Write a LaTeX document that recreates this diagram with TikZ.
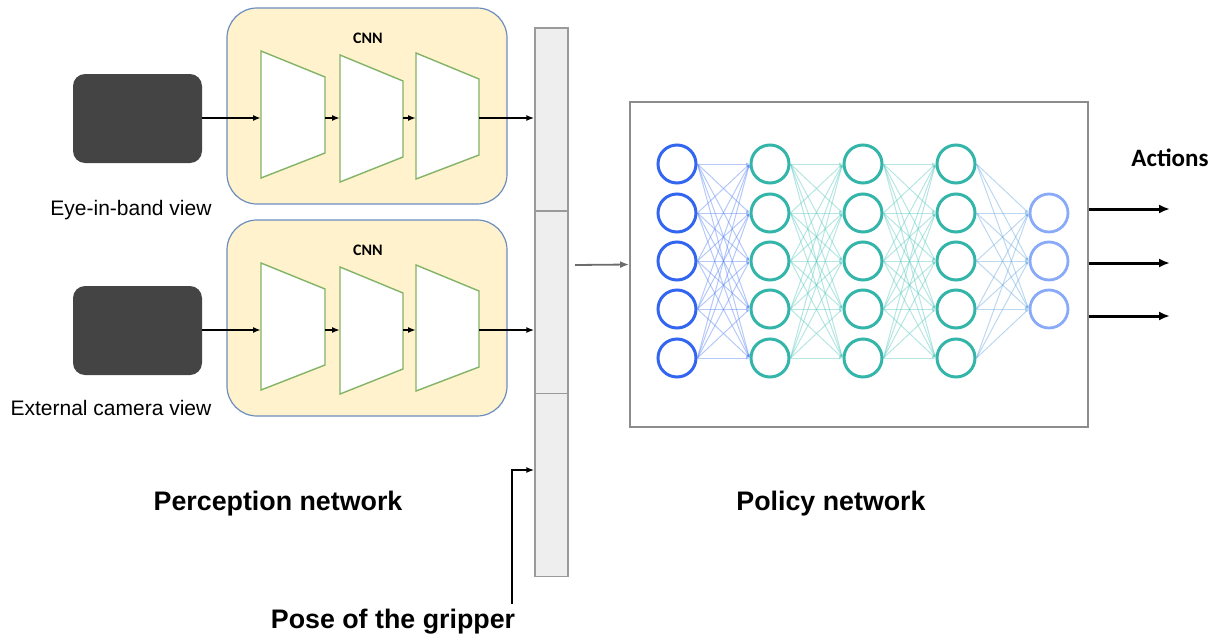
\documentclass[tikz,border=0pt]{standalone}
\usepackage{fontspec}
\setmainfont{Liberation Sans}
\newfontfamily\calib{Carlito}
\usetikzlibrary{arrows.meta}
\definecolor{camc}{HTML}{444444}
\definecolor{cnnfill}{HTML}{FFF2CC}
\definecolor{cnnline}{HTML}{6C8EBF}
\definecolor{trapline}{HTML}{82B366}
\definecolor{barfill}{HTML}{EEEEEE}
\definecolor{barline}{HTML}{9A9A9A}
\definecolor{inblue}{HTML}{3366F0}
\definecolor{nnteal}{HTML}{33B5AA}
\definecolor{outblue}{HTML}{88AAF8}
\definecolor{eblue}{HTML}{5B86F2}
\definecolor{eteal}{HTML}{5CC8C0}
\definecolor{emix}{HTML}{6AA8E0}
\begin{document}
\begin{tikzpicture}[x=1pt,y=-1pt,
  camera/.style={draw=none, fill=camc, rounded corners=12pt, minimum width=129pt, minimum height=89pt, inner sep=0pt},
  cnnbox/.style={draw=cnnline, fill=cnnfill, rounded corners=30pt, line width=1.2pt, minimum width=280pt, minimum height=196pt, inner sep=0pt},
  barseg/.style={draw=barline, fill=barfill, line width=1.4pt, minimum width=33pt, minimum height=183pt, inner sep=0pt},
  trap/.style={draw=trapline, fill=white, line width=1.4pt},
  arr/.style={-{Latex[length=8pt,width=6pt]}, line width=1.8pt, black},
  arrb/.style={-{Latex[length=11pt,width=9pt]}, line width=3pt, black},
  neuron/.style={circle, minimum size=38pt, inner sep=0pt, line width=3pt, fill=white},
  edge/.style={-{Latex[length=3.5pt,width=3pt]}, line width=1pt, opacity=0.45},
  lbl/.style={font=\fontsize{21}{24}\selectfont, inner sep=0pt},
  big/.style={font=\fontsize{26.8}{30}\selectfont\bfseries, inner sep=0pt},
  cnnlbl/.style={font=\calib\bfseries\fontsize{16}{18}\selectfont, inner sep=0pt}
]
\useasboundingbox (0,0) rectangle (1216,635);

% cameras and CNN boxes
\foreach \o/\k in {0/a,212/b}{
  \node[cnnbox] (cnn\k) at (367,106+\o) {};
  \node[cnnlbl] (cnnl\k) at (368,38+\o) {CNN};
  \node[camera] (cam\k) at (137.5,118.5+\o) {};
  \draw[trap] (261,51+\o) -- (325,77+\o) -- (325,153+\o) -- (261,178+\o) -- cycle;
  \draw[trap] (340,55+\o) -- (403,81+\o) -- (403,157+\o) -- (340,182+\o) -- cycle;
  \draw[trap] (416,53+\o) -- (479,79+\o) -- (479,155+\o) -- (416,179+\o) -- cycle;
  \coordinate (t1l\k) at (261,118+\o);
  \coordinate (t1r\k) at (325,118+\o);
  \coordinate (t2l\k) at (340,118+\o);
  \coordinate (t2r\k) at (403,118+\o);
  \coordinate (t3l\k) at (416,118+\o);
  \coordinate (t3r\k) at (479,118+\o);
}
\node[lbl] (eye) at (131,210) {Eye-in-band view};
\node[lbl] (ext) at (111,408) {External camera view};

% feature bar
\node[barseg] (bar1) at (551.5,119.5) {};
\node[barseg] (bar2) at (551.5,302.5) {};
\node[barseg] (bar3) at (551.5,485) {};

\foreach \k in {a,b}{
  \draw[arr] (cam\k.east |- t1l\k) -- (t1l\k);
  \draw[arr] (t1r\k) -- (t2l\k);
  \draw[arr] (t2r\k) -- (t3l\k);
  \draw[arr] (t3r\k) -- (bar1.west |- t3r\k);
}

% gripper
\node[big] (pose) at (393,622) {Pose of the gripper};
\coordinate (grip) at (512,604);
\draw[arr, line width=2.4pt] (grip) |- ([yshift=15pt]bar3.west);

% policy box
\node[draw=gray!90, line width=1.8pt, minimum width=458pt, minimum height=325pt, inner sep=0pt] (policy) at (859,264.5) {};
\coordinate (pa) at (575,265);
\draw[-{Latex[length=9pt,width=7pt]}, line width=1.8pt, gray!85!black] (pa) -- (policy.west);

% neurons
\foreach \i/\y in {1/164,2/213,3/261,4/309,5/358}{
  \node[neuron, draw=inblue] (a\i) at (677,\y) {};
  \node[neuron, draw=nnteal] (b\i) at (770,\y) {};
  \node[neuron, draw=nnteal] (c\i) at (863,\y) {};
  \node[neuron, draw=nnteal] (d\i) at (956,\y) {};
}
\foreach \i/\y in {1/213,2/261,3/309}{
  \node[neuron, draw=outblue, line width=2.8pt] (e\i) at (1049,\y) {};
}
\foreach \s in {1,...,5}{
  \foreach \t in {1,...,5}{
    \draw[edge, eblue] (a\s.east) -- (b\t.west);
    \draw[edge, eteal] (b\s.east) -- (c\t.west);
    \draw[edge, eteal] (c\s.east) -- (d\t.west);
  }
  \foreach \t in {1,2,3}{
    \draw[edge, emix] (d\s.east) -- (e\t.west);
  }
}

% actions
\node[font=\calib\bfseries\fontsize{25}{28}\selectfont, inner sep=0pt] (act) at (1170,158) {Actions};
\coordinate (x1) at (1170,209);
\coordinate (x2) at (1170,263);
\coordinate (x3) at (1170,316);
\foreach \n in {1,2,3}{
  \draw[arrb] (policy.east |- x\n) -- (x\n);
}

\node[big] (perc) at (278,504) {Perception network};
\node[big] (pol) at (831,504) {Policy network};
\end{tikzpicture}
\end{document}
